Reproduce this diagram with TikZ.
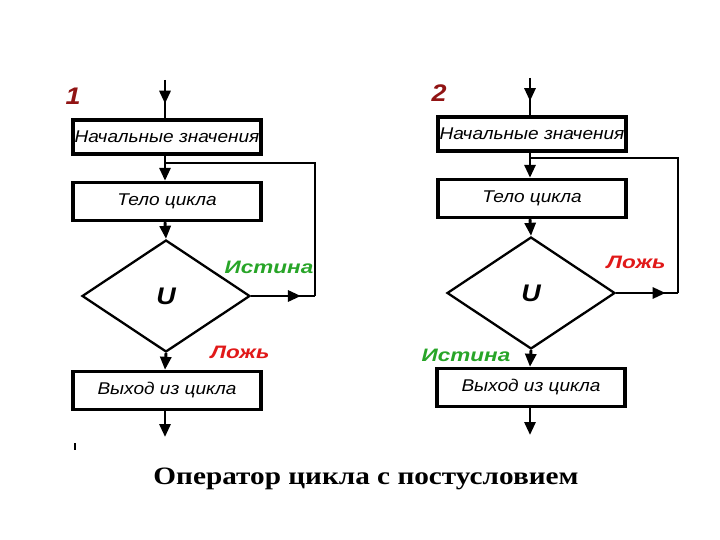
\documentclass[tikz,border=0pt]{standalone}
\usepackage{fontspec}
\setmainfont{Liberation Serif}
\newfontfamily\boxf[FakeStretch=1.12]{Liberation Sans}
\newfontfamily\lblf[FakeStretch=1.25]{Liberation Sans}
\newfontfamily\titlef[FakeStretch=1.17]{Liberation Serif}
\usetikzlibrary{arrows.meta,shapes.geometric,decorations.markings}
\definecolor{ltrue}{RGB}{40,165,40}
\definecolor{lfalse}{RGB}{225,25,25}
\definecolor{numred}{RGB}{145,20,20}
\begin{document}
\begin{tikzpicture}[x=1pt,y=-1pt,
  box/.style={draw, line width=3.4pt, minimum width=188pt, minimum height=38pt, inner sep=0pt,
    font=\boxf\itshape\fontsize{17}{17}\selectfont},
  cond/.style={draw, diamond, line width=2.3pt, minimum width=168pt, minimum height=112pt, inner sep=0pt,
    font=\boxf\bfseries\itshape\fontsize{24}{24}\selectfont},
  conn/.style={line width=2.9pt},
  tip/.style={-{Triangle[length=13pt,width=11pt]}},
  midarrow/.style={postaction={decorate}, decoration={markings, mark=at position #1 with {\arrow{Triangle[length=13pt,width=11pt]}}}},
  lbl/.style={font=\lblf\bfseries\itshape\fontsize{18}{18}\selectfont, inner sep=0pt},
  num/.style={font=\boxf\bfseries\itshape\fontsize{24}{24}\selectfont, text=numred, inner sep=0pt}
]
\useasboundingbox[fill=white] (0,0) rectangle (720,540);

% ---------- diagram 1 ----------
\node[num] (n1) at (73,96) {1};
\coordinate (s1) at (165,80);
\node[box, minimum height=34pt] (a1) at (167,137) {Начальные значения};
\node[box] (b1) at (167,201.5) {Тело цикла};
\node[cond] (d1) at (166,296) {U};
\node[box] (e1) at (167,390.5) {Выход из цикла};
\coordinate (o1) at (165,437);
\coordinate (j1) at (165,163);
\coordinate (c1) at (315,296);

\draw[conn, midarrow=0.62] (s1) -- (a1.north -| s1);
\draw[conn, tip] (a1.south -| s1) -- (b1.north -| s1);
\draw[conn, tip] (b1.south -| s1) -- (d1.north);
\draw[conn, tip] (d1.south) -- (e1.north -| s1);
\draw[conn, tip] (e1.south -| s1) -- (o1);
\draw[conn, midarrow=0.78] (d1.east) -- (c1);
\draw[conn] (c1) |- (j1);
\node[lbl, text=ltrue] (t1) at (269,267) {Истина};
\node[lbl, text=lfalse] (f1) at (240,352) {Ложь};
\coordinate (m1) at (75,443);
\draw[line width=1.6pt] (m1) -- ++(0,7);

% ---------- diagram 2 ----------
\node[num] (n2) at (439,93) {2};
\coordinate (s2) at (530,78);
\node[box, minimum height=34pt] (a2) at (532,134) {Начальные значения};
\node[box] (b2) at (532,198.5) {Тело цикла};
\node[cond] (d2) at (531,293) {U};
\node[box] (e2) at (531,387.5) {Выход из цикла};
\coordinate (o2) at (530,435);
\coordinate (j2) at (530,158);
\coordinate (c2) at (678,293);

\draw[conn, midarrow=0.62] (s2) -- (a2.north -| s2);
\draw[conn, tip] (a2.south -| s2) -- (b2.north -| s2);
\draw[conn, tip] (b2.south -| s2) -- (d2.north);
\draw[conn, tip] (d2.south) -- (e2.north -| s2);
\draw[conn, tip] (e2.south -| s2) -- (o2);
\draw[conn, midarrow=0.8] (d2.east) -- (c2);
\draw[conn] (c2) |- (j2);
\node[lbl, text=lfalse] (f2) at (636,262) {Ложь};
\node[lbl, text=ltrue] (t2) at (466,355) {Истина};

% ---------- title ----------
\node[font=\titlef\bfseries\fontsize{25}{25}\selectfont, inner sep=0pt] (title) at (366,479) {Оператор цикла с постусловием};
\end{tikzpicture}
\end{document}
